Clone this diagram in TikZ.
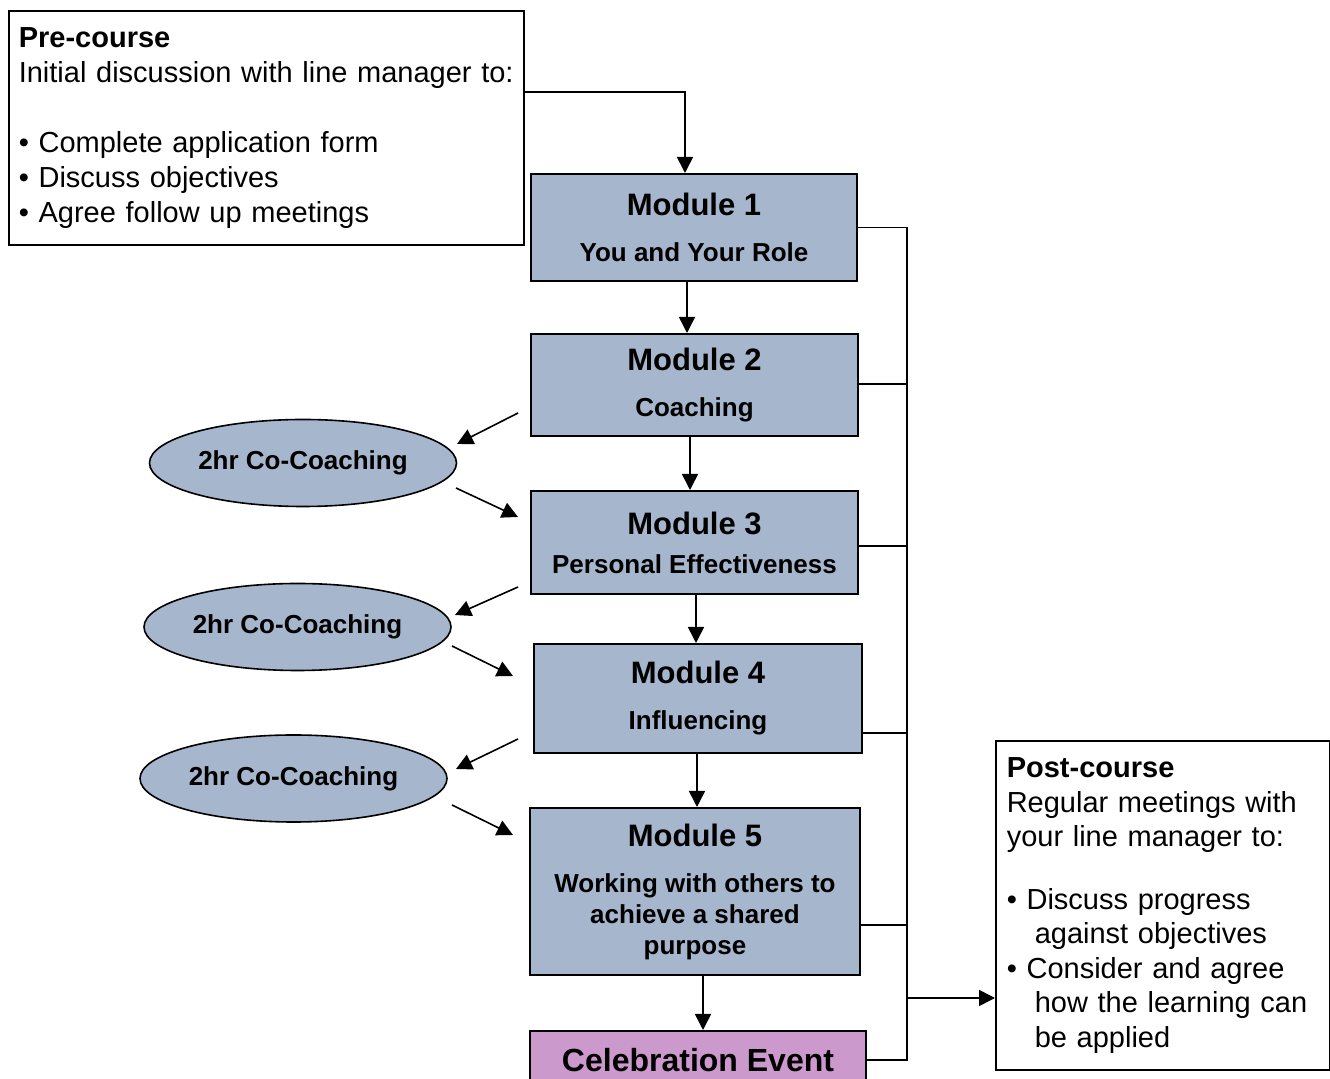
\documentclass[tikz,border=0pt]{standalone}
\usepackage{fontspec}
\setmainfont{Liberation Sans}
\usetikzlibrary{shapes.geometric,arrows.meta}
\definecolor{modblue}{RGB}{166,182,204}
\definecolor{celpink}{RGB}{204,153,204}
\newcommand\modhead[1]{{\fontsize{15.5}{18}\selectfont #1}}
\begin{document}
\begin{tikzpicture}
[x=0.5pt,y=-0.5pt,
module/.style={draw,line width=1pt,fill=modblue,inner sep=0pt,align=center,font=\bfseries\fontsize{13}{15.5}\selectfont},
oval/.style={ellipse,draw,line width=0.8pt,fill=modblue,inner sep=0pt,minimum width=153.5pt,minimum height=43.5pt,font=\bfseries\fontsize{13}{15.5}\selectfont},
note/.style={draw,line width=0.8pt,anchor=north west,inner xsep=5pt,align=left,font=\fontsize{14.5}{17.5}\selectfont},
arr/.style={line width=0.8pt,-{Triangle[length=8pt,width=8pt]}},
link/.style={line width=0.8pt}]
\useasboundingbox (0,0) rectangle (1330,1079);
% notes before and after the course
\node [note,text width=247.5pt,minimum height=117pt] (pre) at (8,10)
{\textbf{Pre-course}\\Initial discussion with line manager to:\\[17.5pt]
\textbullet\ Complete application form\\\textbullet\ Discuss objectives\\\textbullet\ Agree follow up meetings};
\node [note,text width=156pt,minimum height=164.5pt,inner xsep=5.5pt,font=\fontsize{14.5}{17.25}\selectfont] (post) at (995,740)
{\textbf{Post-course}\\Regular meetings with\\your line manager to:\\[14pt]
\textbullet\ Discuss progress\\\hspace*{14pt}against objectives\\\textbullet\ Consider and agree\\
\hspace*{14pt}how the learning can\\\hspace*{14pt}be applied};
% modules
\node [module,minimum width=163pt,minimum height=53.5pt] (m1) at (694,227.5) {\modhead{Module 1}\\[7.5pt]You and Your Role};
\node [module,minimum width=163.5pt,minimum height=51pt] (m2) at (694.5,385) {\modhead{Module 2}\\[7.5pt]Coaching};
\node [module,minimum width=163.5pt,minimum height=51.5pt] (m3) at (694.5,542.5) {\modhead{Module 3}\\[4pt]Personal Effectiveness};
\node [module,minimum width=164pt,minimum height=54.5pt] (m4) at (698,698.5) {\modhead{Module 4}\\[7.5pt]Influencing};
\node [module,minimum width=165pt,minimum height=83.5pt] (m5) at (695,891.5) {\modhead{Module 5}\\[7.5pt]Working with others to\\achieve a shared\\purpose};
\node [module,fill=celpink,font=\bfseries\fontsize{16}{19}\selectfont,minimum width=168pt,minimum height=29pt] (cel) at (698,1060) {Celebration Event};
% co-coaching sessions
\node [oval] (o1) at (303,463) {2hr Co-Coaching};
\node [oval] (o2) at (297.5,627) {2hr Co-Coaching};
\node [oval] (o3) at (293.5,778.5) {2hr Co-Coaching};
% flow
\draw [arr] (pre.east |- 0,92) -| (m1.north -| 685,0);
\draw [arr] (m1.south -| 687,0) -- (m2.north -| 687,0);
\draw [arr] (m2.south -| 690,0) -- (m3.north -| 690,0);
\draw [arr] (m3.south -| 696,0) -- (m4.north -| 696,0);
\draw [arr] (m4.south -| 697,0) -- (m5.north -| 697,0);
\draw [arr] (m5.south -| 703,0) -- (cel.north -| 703,0);
\foreach \n/\sx/\sy/\tx/\ty in {1/518/413/457/444,2/456/488/518/517,3/518/587/455/615,
4/452/646/513/676,5/518/739/456/769,6/452/805/513/835}
{\coordinate (s\n) at (\sx,\sy); \coordinate (t\n) at (\tx,\ty);
\draw [arr] (s\n) -- (t\n);}
% bracket to post-course
\coordinate (bus) at (907,227.5);
\draw [link] (m1.east) -- (bus) -- (bus |- cel.east) -- (cel.east);
\foreach \n/\y in {m2/384,m3/546,m4/733,m5/925}
\draw [link] (\n.east |- 0,\y) -- (bus |- 0,\y);
\draw [arr] (bus |- 0,998) -- (post.west |- 0,998);
\end{tikzpicture}
\end{document}
